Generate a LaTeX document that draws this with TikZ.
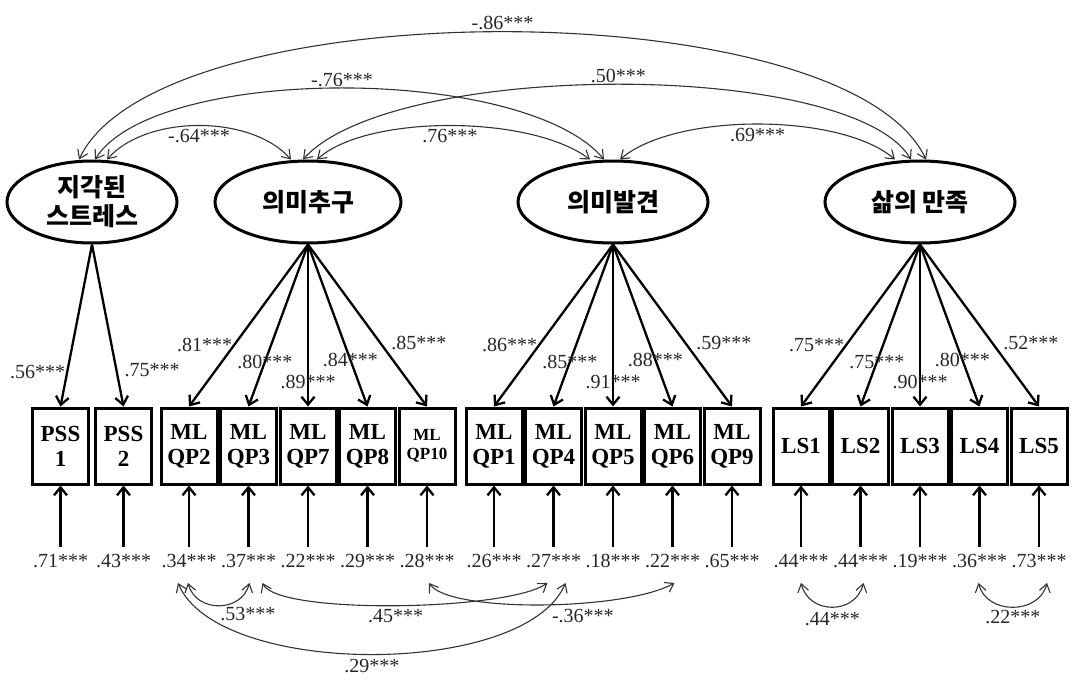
\documentclass[tikz,border=0pt]{standalone}
\usepackage{fontspec}
\setmainfont{Liberation Serif}
\newfontfamily\krfont{Noto Sans CJK KR}
\usetikzlibrary{arrows.meta,shapes.geometric,positioning}

\tikzset{
  latent/.style={draw, ellipse, line width=3pt, minimum width=186pt, minimum height=82pt,
    inner sep=0pt, align=center, font=\krfont\bfseries\fontsize{25}{29}\selectfont},
  ind/.style={draw, line width=3pt, minimum width=56pt, minimum height=76pt, inner sep=1pt,
    align=center, font=\bfseries\fontsize{23}{25}\selectfont},
  err/.style={inner xsep=1pt, inner ysep=7pt, text=black!85, font=\fontsize{20}{21}\selectfont},
  lab/.style={inner sep=1pt, text=black!85, font=\fontsize{20}{21}\selectfont},
  load/.style={line width=2.3pt, -{Straight Barb[length=8pt,width=13pt]}},
  cov/.style={line width=1.1pt, draw=black!80,
    {Straight Barb[length=8pt,width=11pt]}-{Straight Barb[length=8pt,width=11pt]}}
}

\begin{document}
\begin{tikzpicture}[x=1pt, y=1pt, level distance=244pt, sibling distance=59.5pt,
  parent anchor=south, child anchor=north,
  level 1/.style={edge from parent/.style={draw, load}},
  level 2/.style={level distance=115pt,
    edge from parent/.style={draw, line width=2.3pt, {Straight Barb[length=8pt,width=13pt]}-}}]
  \useasboundingbox (0,0) rectangle (1071,-680);

  % factors and their items
  \node[latent, minimum width=170pt] (ps) at (92,-202) {지각된\\스트레스} [sibling distance=63pt]
    child {node[ind] (pss1) {PSS\\1}
      child {node[err] (epss1) {.71***}}
      edge from parent node[lab, left, pos=.785] {.56***}}
    child {node[ind] (pss2) {PSS\\2}
      child {node[err] (epss2) {.43***}}
      edge from parent node[lab, right=6pt, pos=.773] {.75***}};

  \node[latent] (ms) at (308,-202) {의미추구}
    child {node[ind] (qp2) {ML\\QP2}
      child {node[err] (eqp2) {.34***}}
      edge from parent node[lab, left, pos=.62] {.81***}}
    child {node[ind] (qp3) {ML\\QP3}
      child {node[err] (eqp3) {.37***}}
      edge from parent node[lab, pos=.724] {.80***}}
    child {node[ind] (qp7) {ML\\QP7}
      child {node[err] (eqp7) {.22***}}
      edge from parent node[lab, pos=.847] {.89***}}
    child {node[ind] (qp8) {ML\\QP8}
      child {node[err] (eqp8) {.29***}}
      edge from parent node[lab, pos=.712] {.84***}}
    child {node[ind, font=\bfseries\fontsize{17}{19}\selectfont] (qp10) {ML\\QP10}
      child {node[err] (eqp10) {.28***}}
      edge from parent node[lab, right=9pt, pos=.607] {.85***}};

  \node[latent, minimum width=190pt] (mp) at (613,-202) {의미발견}
    child {node[ind] (qp1) {ML\\QP1}
      child {node[err] (eqp1) {.26***}}
      edge from parent node[lab, left, pos=.62] {.86***}}
    child {node[ind] (qp4) {ML\\QP4}
      child {node[err] (eqp4) {.27***}}
      edge from parent node[lab, pos=.724] {.85***}}
    child {node[ind] (qp5) {ML\\QP5}
      child {node[err] (eqp5) {.18***}}
      edge from parent node[lab, pos=.847] {.91***}}
    child {node[ind] (qp6) {ML\\QP6}
      child {node[err] (eqp6) {.22***}}
      edge from parent node[lab, pos=.712] {.88***}}
    child {node[ind] (qp9) {ML\\QP9}
      child {node[err] (eqp9) {.65***}}
      edge from parent node[lab, right=9pt, pos=.607] {.59***}};

  \node[latent, minimum width=190pt] (ls) at (920,-202) {삶의 만족}
    child {node[ind] (ls1) {LS1}
      child {node[err] (els1) {.44***}}
      edge from parent node[lab, left, pos=.62] {.75***}}
    child {node[ind] (ls2) {LS2}
      child {node[err] (els2) {.44***}}
      edge from parent node[lab, pos=.724] {.75***}}
    child {node[ind] (ls3) {LS3}
      child {node[err] (els3) {.19***}}
      edge from parent node[lab, pos=.847] {.90***}}
    child {node[ind] (ls4) {LS4}
      child {node[err] (els4) {.36***}}
      edge from parent node[lab, pos=.712] {.80***}}
    child {node[ind] (ls5) {LS5}
      child {node[err] (els5) {.73***}}
      edge from parent node[lab, right=9pt, pos=.607] {.52***}};

  % factor covariances
  \draw[cov] ([xshift=-13pt]ps.north) .. controls +(80,170) and +(-80,170) .. ([xshift=6pt]ls.north)
    node[lab, midway, above=1pt] {-.86***};
  \draw[cov] ([xshift=3pt]ps.north) .. controls +(60,95) and +(-80,95) .. ([xshift=-9pt]mp.north)
    node[lab, midway, above] {-.76***};
  \draw[cov] ([xshift=15pt]ps.north) .. controls +(40,45) and +(-40,45) .. ([xshift=-17pt]ms.north)
    node[lab, midway, below=2pt] {-.64***};
  \draw[cov] ([xshift=-5pt]ms.north) .. controls +(90,100) and +(-60,100) .. ([xshift=-9pt]ls.north)
    node[lab, midway, above] {.50***};
  \draw[cov] ([xshift=9pt]ms.north) .. controls +(50,45) and +(-60,45) .. ([xshift=-23pt]mp.north)
    node[lab, midway, below=2pt] {.76***};
  \draw[cov] ([xshift=7pt]mp.north) .. controls +(55,47) and +(-55,47) .. ([xshift=-25pt]ls.north)
    node[lab, midway, below=2pt] {.69***};

  % error covariances
  \draw[cov] ([xshift=-1pt,yshift=-8pt]eqp2.south) .. controls +(8,-30) and +(-8,-30) .. ([xshift=1pt,yshift=-8pt]eqp3.south)
    node[lab, midway, below right] {.53***};
  \draw[cov] ([xshift=-11pt,yshift=-8pt]eqp2.south) .. controls +(40,-95) and +(-40,-95) .. ([xshift=12pt,yshift=-8pt]eqp4.south)
    node[lab, midway, below=3pt] {.29***};
  \draw[cov] ([xshift=14pt,yshift=-8pt]eqp3.south) .. controls +(15,-32) and +(-40,-28) .. ([xshift=-6pt,yshift=-8pt]eqp4.south)
    node[lab, midway, below=2pt] {.45***};
  \draw[cov] ([xshift=2pt,yshift=-8pt]eqp10.south) .. controls +(20,-30) and +(-50,-28) .. ([xshift=2pt,yshift=-8pt]eqp6.south)
    node[lab, midway, below right, xshift=10pt, yshift=-3pt] {-.36***};
  \draw[cov] ([xshift=0pt,yshift=-8pt]els1.south) .. controls +(8,-32) and +(-8,-32) .. ([xshift=3pt,yshift=-8pt]els2.south)
    node[lab, midway, below=4pt] {.44***};
  \draw[cov] ([xshift=-1pt,yshift=-8pt]els4.south) .. controls +(8,-32) and +(-8,-32) .. ([xshift=8pt,yshift=-8pt]els5.south)
    node[lab, midway, below=2pt] {.22***};
\end{tikzpicture}
\end{document}
